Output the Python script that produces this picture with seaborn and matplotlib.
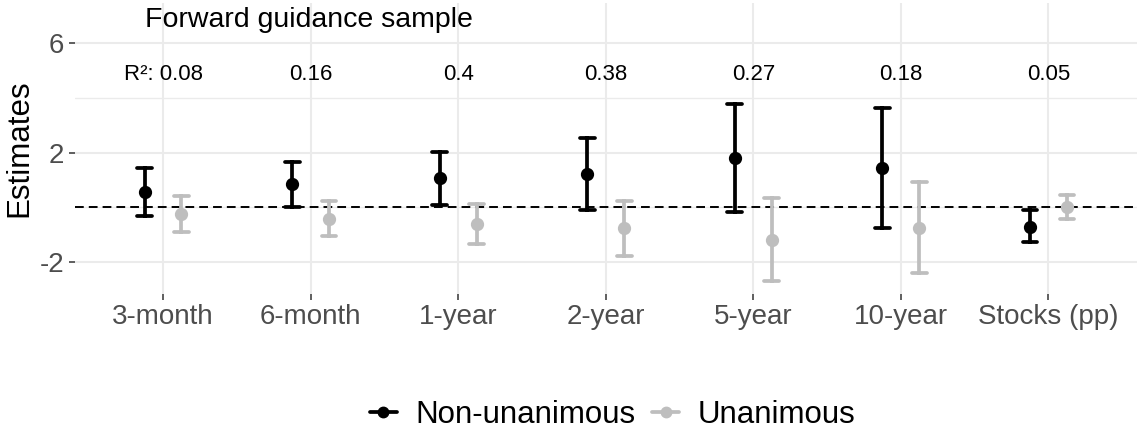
import numpy as np
import pandas as pd
import seaborn as sns
import matplotlib.pyplot as plt
from matplotlib.lines import Line2D

# ---- data ----
categories = ["3-month", "6-month", "1-year", "2-year", "5-year", "10-year", "Stocks (pp)"]
groups = ["Non-unanimous", "Unanimous"]

nonu_est = [0.58, 0.85, 1.07, 1.21, 1.80, 1.43, -0.70]
nonu_lo = [-0.31, 0.03, 0.10, -0.09, -0.18, -0.76, -1.28]
nonu_hi = [1.43, 1.65, 2.04, 2.54, 3.77, 3.64, -0.09]

un_est = [-0.25, -0.42, -0.60, -0.76, -1.19, -0.74, 0.02]
un_lo = [-0.91, -1.04, -1.33, -1.76, -2.68, -2.40, -0.43]
un_hi = [0.42, 0.23, 0.13, 0.25, 0.34, 0.94, 0.46]

r2_labels = ["R\u00b2: 0.08", "0.16", "0.4", "0.38", "0.27", "0.18", "0.05"]
title_text = "Forward guidance sample"
y_major = [-2, 2, 6]
y_minor = [0, 4]

colors = {"Non-unanimous": "black", "Unanimous": "#BEBEBE"}

# ---- long-form table: (lo, est, hi) per term/group ----
rows = []
for g, est, lo, hi in [("Non-unanimous", nonu_est, nonu_lo, nonu_hi),
                       ("Unanimous", un_est, un_lo, un_hi)]:
    for c, e, l, h in zip(categories, est, lo, hi):
        for v in (l, e, h):
            rows.append({"term": c, "group": g, "value": v})
df = pd.DataFrame(rows)

sns.set_theme(style="whitegrid")
plt.rcParams['font.family'] = ['Liberation Sans', 'DejaVu Sans']
plt.rcParams['text.color'] = 'black'

W, H = 1137, 433
fig = plt.figure(figsize=(W / 100, H / 100), dpi=100)
left_px, bottom_px, top_px = 74.5, 294, 2.5
ax = fig.add_axes([left_px / W, 1 - bottom_px / H, 1 - left_px / W, (bottom_px - top_px) / H])

ax.axhline(0, color='black', lw=1.4, ls=(0, (4.5, 2.6)), zorder=1.5)

sns.pointplot(data=df, x="term", y="value", hue="group",
              order=categories, hue_order=groups, palette=colors,
              estimator="median", errorbar=lambda v: (v.min(), v.max()),
              dodge=0.25, linestyle="none", capsize=0.1,
              err_kws={"linewidth": 2.7}, markersize=7.5,
              legend=False, ax=ax)

ax.set_xlim(-0.6, 6.6)
ax.set_ylim(-3.16, 7.48)
ax.set_yticks(y_major)
ax.set_yticklabels([str(v) for v in y_major])
ax.set_yticks(y_minor, minor=True)

ax.set_axisbelow(True)
ax.grid(True, which='major', axis='both', color='#EBEBEB', lw=1.5)
ax.grid(True, which='minor', axis='y', color='#EBEBEB', lw=1.0)
for s in ax.spines.values():
    s.set_visible(False)

ax.tick_params(axis='both', which='major', length=4, width=1.1, color='#333333',
               labelcolor='#4D4D4D', labelsize=20, pad=3.5, bottom=True, left=True)
ax.tick_params(axis='y', which='minor', length=0)

ax.set_xlabel("")
ax.set_ylabel("Estimates", fontsize=22.5, color='black')
ax.yaxis.set_label_coords(-0.0376, 0.5)

for i, lbl in enumerate(r2_labels):
    ax.text(i, 4.65, lbl, ha='center', va='baseline', fontsize=16, color='black')
ax.text(0.99, 6.6, title_text, ha='center', va='baseline', fontsize=20.5, color='black')

handles = [Line2D([0], [0], color=colors[g], lw=2.7, marker='o', markersize=7.5) for g in groups]
leg = fig.legend(handles, groups, loc='center', bbox_to_anchor=(612.5 / W, 1 - 415 / H),
                 ncol=2, frameon=False, fontsize=22.5, handlelength=0.87, handletextpad=0.58,
                 columnspacing=0.55, borderaxespad=0, borderpad=0)
for t in leg.get_texts():
    t.set_color('black')

fig.savefig("out.png", dpi=100)
